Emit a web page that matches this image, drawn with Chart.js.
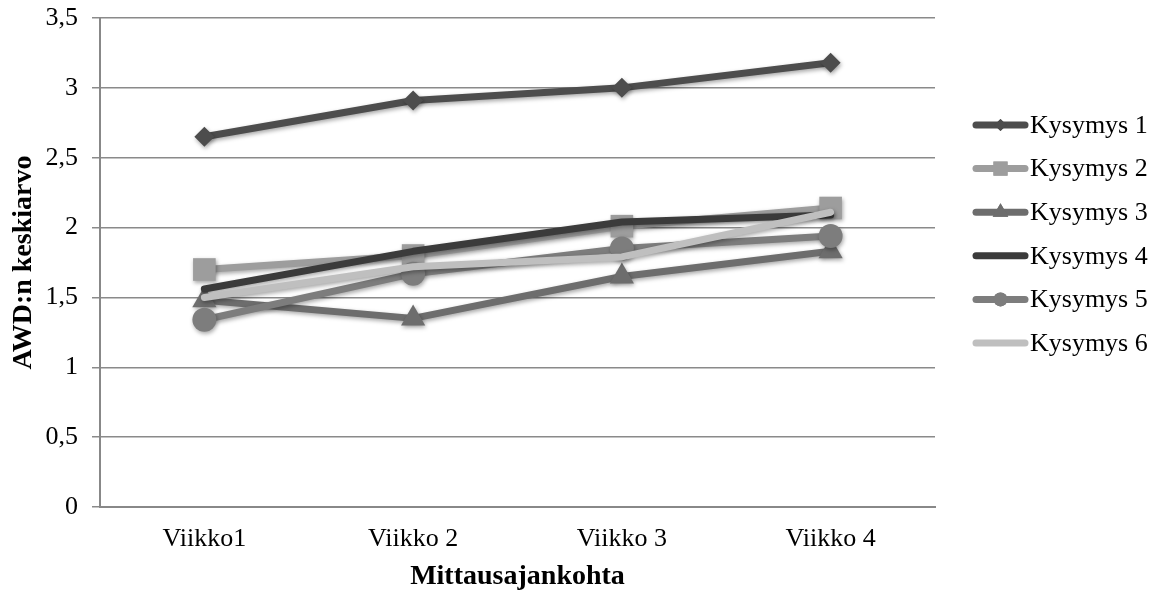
<!DOCTYPE html>
<html>
<head>
<meta charset="utf-8">
<script src="https://cdn.jsdelivr.net/npm/chart.js@4/dist/chart.umd.min.js"></script>
<style>
  html, body { margin: 0; padding: 0; background: #ffffff; }
  #wrap { width: 1156px; height: 592px; }
</style>
</head>
<body>
<div id="wrap"><canvas id="c" width="1156" height="592"></canvas></div>
<script>
// Mittausajankohdat (x-akseli)
const categories = ['Viikko1', 'Viikko 2', 'Viikko 3', 'Viikko 4'];

// AWD:n keskiarvot kysymyksittäin
const kysymys1 = [2.65, 2.91, 3.00, 3.18];
const kysymys2 = [1.70, 1.80, 2.01, 2.14];
const kysymys3 = [1.48, 1.35, 1.65, 1.83];
const kysymys4 = [1.56, 1.83, 2.04, 2.09];
const kysymys5 = [1.34, 1.67, 1.85, 1.94];
const kysymys6 = [1.50, 1.72, 1.79, 2.11];

const seriesNames = ['Kysymys 1', 'Kysymys 2', 'Kysymys 3', 'Kysymys 4', 'Kysymys 5', 'Kysymys 6'];

// y-akselin tekstit (desimaalipilkku)
const yTickLabels = ['0', '0,5', '1', '1,5', '2', '2,5', '3', '3,5'];

const seriesValues = [kysymys1, kysymys2, kysymys3, kysymys4, kysymys5, kysymys6];
const colors = ['#4d4d4d', '#9d9d9d', '#6d6d6d', '#3b3b3b', '#7d7d7d', '#bfbfbf'];
const markers = ['rectRot', 'rect', 'triangle', false, 'circle', false];
const markerRadius = [10, 16, 14, 0, 12, 0];
const legendRadius = [6, 10, 9, 0, 7, 0];

const serif = "'Liberation Serif', 'Times New Roman', serif";

const datasets = seriesValues.map((vals, i) => ({
  label: seriesNames[i],
  data: vals,
  borderColor: colors[i],
  backgroundColor: colors[i],
  borderWidth: 7,
  borderCapStyle: 'round',
  borderJoinStyle: 'round',
  tension: 0,
  pointStyle: markers[i],
  pointRadius: markerRadius[i],
  pointBorderWidth: 0,
  pointBackgroundColor: colors[i],
  pointHoverRadius: markerRadius[i],
  order: seriesNames.length - 1 - i
}));

// soft drop shadow under lines and markers
const shadowPlugin = {
  id: 'dropShadow',
  beforeDatasetDraw(chart) {
    const ctx = chart.ctx;
    ctx.save();
    ctx.shadowColor = 'rgba(0,0,0,0.35)';
    ctx.shadowBlur = 4;
    ctx.shadowOffsetX = 1;
    ctx.shadowOffsetY = 2;
  },
  afterDatasetDraw(chart) {
    chart.ctx.restore();
  }
};

// legend: line sample with marker, then series name
const lineLegend = {
  id: 'lineLegend',
  afterDraw(chart) {
    const ctx = chart.ctx;
    const x0 = 973, x1 = 1028, textX = 1030;
    const y0 = 125, step = 43.6;
    chart.data.datasets.forEach((ds, i) => {
      const y = y0 + i * step;
      ctx.save();
      ctx.strokeStyle = ds.borderColor;
      ctx.fillStyle = ds.borderColor;
      ctx.lineWidth = 7;
      ctx.lineCap = 'round';
      ctx.beginPath();
      ctx.moveTo(x0 + 3, y);
      ctx.lineTo(x1 - 3, y);
      ctx.stroke();
      if (ds.pointStyle) {
        Chart.helpers.drawPoint(ctx, {
          pointStyle: ds.pointStyle,
          radius: legendRadius[i],
          rotation: 0,
          borderWidth: 0
        }, (x0 + x1) / 2, y);
        ctx.fill();
      }
      ctx.fillStyle = '#000000';
      ctx.font = '26px ' + serif;
      ctx.textBaseline = 'middle';
      ctx.textAlign = 'left';
      ctx.fillText(ds.label, textX, y + 1);
      ctx.restore();
    });
  }
};

new Chart(document.getElementById('c'), {
  type: 'line',
  data: { labels: categories, datasets: datasets },
  plugins: [shadowPlugin, lineLegend],
  options: {
    responsive: false,
    animation: false,
    events: [],
    layout: { padding: { left: 0, right: 221, top: 18, bottom: 0 } },
    plugins: {
      legend: { display: false },
      tooltip: { enabled: false }
    },
    scales: {
      x: {
        type: 'category',
        offset: true,
        grid: { display: false, drawTicks: false },
        border: { display: true, color: '#888888', width: 2 },
        ticks: {
          color: '#000000',
          padding: 17,
          font: { family: serif, size: 26 }
        },
        title: {
          display: true,
          text: 'Mittausajankohta',
          color: '#000000',
          font: { family: serif, size: 28, weight: 'bold', lineHeight: 1.1 },
          padding: { top: 0, bottom: 0 }
        },
        afterFit(scale) {
          scale.height = 85;
          scale.paddingLeft = 0;
          scale.paddingRight = 0;
        }
      },
      y: {
        min: 0,
        max: 3.5,
        ticks: {
          stepSize: 0.5,
          color: '#000000',
          padding: 14,
          font: { family: serif, size: 26 },
          callback: (v, idx) => yTickLabels[idx]
        },
        grid: {
          color: '#8a8a8a',
          lineWidth: 1.5,
          tickLength: 8,
          drawTicks: true
        },
        border: { display: true, color: '#888888', width: 2 },
        title: {
          display: true,
          text: 'AWD:n keskiarvo',
          color: '#000000',
          font: { family: serif, size: 28, weight: 'bold' },
          padding: { top: 7, bottom: 0 }
        },
        afterFit(scale) {
          scale.width = 100;
          scale.paddingTop = 0;
          scale.paddingBottom = 0;
        }
      }
    }
  }
});
</script>
</body>
</html>
